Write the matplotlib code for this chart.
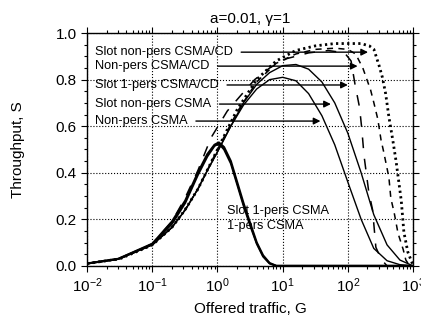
import numpy as np
import matplotlib
matplotlib.use('Agg')
import matplotlib.pyplot as plt
from matplotlib.ticker import MultipleLocator, FormatStrFormatter, LogLocator

plt.rcParams['font.family'] = ['Liberation Sans', 'DejaVu Sans']
plt.rcParams['mathtext.fontset'] = 'custom'
plt.rcParams['mathtext.rm'] = 'Liberation Sans'

# data
# 1-persistent CSMA (slotted and unslotted)
one_G = [0.01, 0.03, 0.1, 0.2, 0.32, 0.5, 0.7, 0.9, 1.05, 1.26, 1.6, 2.0, 2.5, 3.2, 4.0, 5.0, 6.3, 8.0, 1000]
one_S = [0.01, 0.03, 0.095, 0.19, 0.28, 0.40, 0.48, 0.52, 0.53, 0.51, 0.45, 0.36, 0.27, 0.18, 0.10, 0.045, 0.012, 0.0, 0.0]
slot_one_S = [0.01, 0.03, 0.093, 0.18, 0.27, 0.39, 0.47, 0.515, 0.525, 0.50, 0.44, 0.35, 0.26, 0.17, 0.095, 0.04, 0.01, 0.0, 0.0]

# non-persistent CSMA (unslotted / slotted)
np_G = [0.01, 0.03, 0.1, 0.2, 0.32, 0.5, 0.7, 1.0, 1.6, 2.5, 4.0, 6.3, 10, 16, 25, 40, 63, 100, 160, 250, 400, 630, 1000]
np_S = [0.01, 0.029, 0.09, 0.165, 0.24, 0.33, 0.41, 0.49, 0.60, 0.69, 0.76, 0.80, 0.81, 0.795, 0.74, 0.645, 0.52, 0.36, 0.20, 0.075, 0.022, 0.005, 0.0]
slot_np_S = [0.01, 0.029, 0.09, 0.165, 0.24, 0.33, 0.41, 0.49, 0.60, 0.70, 0.78, 0.83, 0.86, 0.865, 0.845, 0.79, 0.70, 0.57, 0.40, 0.22, 0.09, 0.025, 0.0]

# slotted 1-persistent CSMA/CD (log10 G)
s1cd_logG = [-2, -1.5, -1, -0.7, -0.5, -0.3, -0.1, 0.15, 0.35, 0.57, 0.8, 1.06, 1.4, 1.7, 1.95, 2.05, 2.11, 2.18, 2.21, 2.25, 2.32, 2.38, 2.43, 2.51, 2.6]
s1cd_S = [0.01, 0.03, 0.095, 0.19, 0.29, 0.41, 0.55, 0.665, 0.73, 0.80, 0.85, 0.89, 0.915, 0.925, 0.915, 0.88, 0.78, 0.68, 0.60, 0.47, 0.32, 0.24, 0.08, 0.03, 0.0]

# non-persistent CSMA/CD
npcd_logG = [-2, -1.5, -1, -0.7, -0.5, -0.3, 0, 0.3, 0.6, 0.9, 1.2, 1.5, 1.8, 2.0, 2.12, 2.23, 2.35, 2.40, 2.46, 2.51, 2.55, 2.63, 2.66, 2.71, 2.77, 2.85, 2.89, 2.95]
npcd_S = [0.01, 0.03, 0.09, 0.165, 0.24, 0.33, 0.5, 0.66, 0.79, 0.87, 0.91, 0.93, 0.935, 0.93, 0.91, 0.85, 0.755, 0.70, 0.63, 0.54, 0.49, 0.38, 0.29, 0.23, 0.14, 0.07, 0.025, 0.0]

# slotted non-persistent CSMA/CD
snpcd_logG = [-2, -1.5, -1, -0.7, -0.5, -0.3, 0, 0.3, 0.6, 0.9, 1.2, 1.5, 1.8, 2.2, 2.33, 2.40, 2.48, 2.53, 2.58, 2.63, 2.69, 2.74, 2.82, 2.86, 2.92, 2.99, 3.0]
snpcd_S = [0.01, 0.03, 0.09, 0.165, 0.24, 0.33, 0.5, 0.67, 0.80, 0.88, 0.925, 0.945, 0.955, 0.955, 0.945, 0.93, 0.86, 0.81, 0.74, 0.64, 0.54, 0.45, 0.28, 0.145, 0.06, 0.01, 0.0]

# labels and arrow tips (log10 G, S)
labels = ['Slot non-pers CSMA/CD', 'Non-pers CSMA/CD', 'Slot 1-pers CSMA/CD',
          'Slot non-pers CSMA', 'Non-pers CSMA']
tips_logG = [2.31, 2.15, 2.00, 1.74, 1.58]
tips_S = [0.918, 0.858, 0.777, 0.695, 0.622]
text_logG = -1.88

fig = plt.figure(figsize=(4.21, 3.15), dpi=100)
ax = fig.add_axes([0.207, 0.156, 0.774, 0.739])

ax.plot(one_G, one_S, c='k', lw=1.6)
ax.plot(one_G, slot_one_S, c='k', lw=1.4)
ax.plot(np_G, np_S, c='k', lw=1.0)
ax.plot(np_G, slot_np_S, c='k', lw=1.0)
ax.plot(10 ** np.array(s1cd_logG), s1cd_S, c='k', lw=1.1, dashes=(7, 7))
ax.plot(10 ** np.array(npcd_logG), npcd_S, c='k', lw=1.1, dashes=(4, 3.5))
ax.plot(10 ** np.array(snpcd_logG), snpcd_S, c='k', lw=2.0, dashes=(0.8, 1.2))

for lab, xl, yl in zip(labels, tips_logG, tips_S):
    ax.annotate(lab, xy=(10 ** xl, yl), xytext=(10 ** text_logG, yl),
                ha='left', va='center', fontsize=9.2,
                arrowprops=dict(arrowstyle='-|>', color='k', lw=1.0,
                                mutation_scale=10, shrinkA=4, shrinkB=0,
                                relpos=(1, 0.5)))

ax.text(10 ** 0.15, 0.236, 'Slot 1-pers CSMA', fontsize=9.2, va='center')
ax.text(10 ** 0.15, 0.172, '1-pers CSMA', fontsize=9.2, va='center')

ax.set_xscale('log')
ax.set_xlim(0.01, 1000)
ax.set_ylim(0, 1.0)
ax.yaxis.set_major_locator(MultipleLocator(0.2))
ax.yaxis.set_minor_locator(MultipleLocator(0.05))
ax.yaxis.set_major_formatter(FormatStrFormatter('%.1f'))
ax.xaxis.set_major_locator(LogLocator(base=10, numticks=10))
ax.xaxis.set_minor_locator(LogLocator(base=10, subs=np.arange(2, 10), numticks=20))

ax.tick_params(axis='both', which='both', direction='out', top=True, right=True,
               labelsize=11, width=0.8)
ax.tick_params(which='major', length=4)
ax.tick_params(which='minor', length=2.5)
ax.grid(True, which='major', ls=':', c='k', lw=0.8)
ax.set_axisbelow(True)
for s in ax.spines.values():
    s.set_linewidth(1.0)

ax.set_title('a=0.01, \u03b3=1', fontsize=11, pad=7)
ax.set_xlabel('Offered traffic, G', fontsize=11, labelpad=5)
ax.set_ylabel('Throughput, S', fontsize=11, labelpad=22)

fig.savefig('out.png', dpi=100)
